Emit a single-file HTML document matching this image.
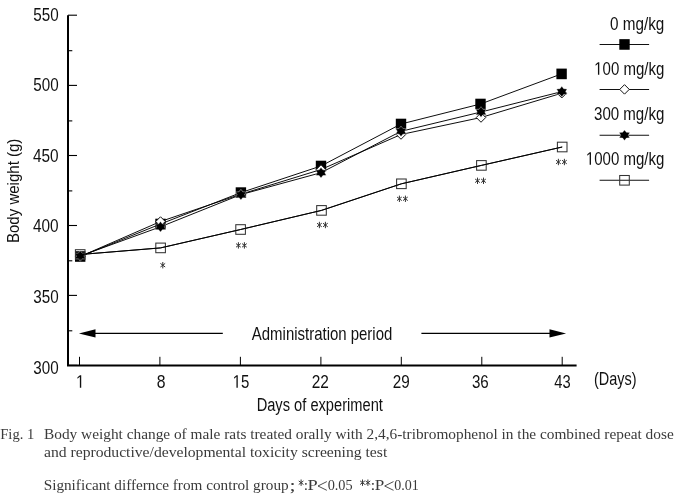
<!DOCTYPE html><html><head><meta charset="utf-8"><style>html,body{margin:0;padding:0;background:#fff;width:674px;height:494px;overflow:hidden}svg{display:block;will-change:transform}</style></head><body>
<svg width="674" height="494" viewBox="0 0 674 494">
<rect width="674" height="494" fill="#fff"/>
<g stroke="#000" fill="none">
<path d="M68,15.2 V365.5 H576.6" stroke-width="2"/>
<path d="M68,15.2 H77" stroke-width="1.1"/>
<path d="M68,85.4 H77" stroke-width="1.1"/>
<path d="M68,155.5 H77" stroke-width="1.1"/>
<path d="M68,225.5 H77" stroke-width="1.1"/>
<path d="M68,295.4 H77" stroke-width="1.1"/>
<path d="M68,365.4 H77" stroke-width="1.1"/>
<path d="M68,50.7 H72.3" stroke-width="1.1"/>
<path d="M68,120.9 H72.3" stroke-width="1.1"/>
<path d="M68,190.9 H72.3" stroke-width="1.1"/>
<path d="M68,260.8 H72.3" stroke-width="1.1"/>
<path d="M68,330.8 H72.3" stroke-width="1.1"/>
<path d="M79.5,365 V356.8" stroke-width="1"/>
<path d="M159.9,365 V356.8" stroke-width="1"/>
<path d="M240.4,365 V356.8" stroke-width="1"/>
<path d="M320.9,365 V356.8" stroke-width="1"/>
<path d="M401.3,365 V356.8" stroke-width="1"/>
<path d="M481.8,365 V356.8" stroke-width="1"/>
<path d="M562.2,365 V356.8" stroke-width="1"/>
</g>
<text transform="translate(33.29,20.90) scale(0.8409,1)" font-family="Liberation Sans" font-size="18.1" fill="#111">550</text>
<text transform="translate(33.29,91.40) scale(0.8409,1)" font-family="Liberation Sans" font-size="18.1" fill="#111">500</text>
<text transform="translate(33.02,161.90) scale(0.8502,1)" font-family="Liberation Sans" font-size="18.1" fill="#111">450</text>
<text transform="translate(33.02,232.30) scale(0.8502,1)" font-family="Liberation Sans" font-size="18.1" fill="#111">400</text>
<text transform="translate(33.29,303.20) scale(0.8409,1)" font-family="Liberation Sans" font-size="18.1" fill="#111">350</text>
<text transform="translate(33.29,373.80) scale(0.8409,1)" font-family="Liberation Sans" font-size="18.1" fill="#111">300</text>
<path d="M515,0 L515,1237 L197,1010 L197,1180 L530,1409 L696,1409 L696,0 Z" fill="#111" transform="translate(75.984,387.80) scale(0.007529,-0.008838)"/>
<text transform="translate(75.98,387.80) scale(0.8519,1)" font-family="Liberation Sans" font-size="18.1" fill="#111"> </text>
<text transform="translate(156.69,387.80) scale(0.8699,1)" font-family="Liberation Sans" font-size="18.1" fill="#111">8</text>
<path d="M515,0 L515,1237 L197,1010 L197,1180 L530,1409 L696,1409 L696,0 Z" fill="#111" transform="translate(232.677,387.80) scale(0.007312,-0.008838)"/>
<text transform="translate(232.68,387.80) scale(0.8273,1)" font-family="Liberation Sans" font-size="18.1" fill="#111"> 5</text>
<text transform="translate(311.73,387.80) scale(0.8533,1)" font-family="Liberation Sans" font-size="18.1" fill="#111">22</text>
<text transform="translate(392.74,387.80) scale(0.8437,1)" font-family="Liberation Sans" font-size="18.1" fill="#111">29</text>
<text transform="translate(471.89,387.80) scale(0.8368,1)" font-family="Liberation Sans" font-size="18.1" fill="#111">36</text>
<text transform="translate(554.23,387.80) scale(0.8142,1)" font-family="Liberation Sans" font-size="18.1" fill="#111">43</text>
<text transform="translate(593.93,384.98) scale(0.8083,1)" font-family="Liberation Sans" font-size="17.9" fill="#111" >(Days)</text>
<text transform="translate(256.63,410.60) scale(0.8333,1)" font-family="Liberation Sans" font-size="17.6" fill="#111">Days of experiment</text>
<text transform="translate(251.83,339.60) scale(0.8458,1)" font-family="Liberation Sans" font-size="17.7" fill="#111">Administration period</text>
<text transform="translate(19.37,243.00) rotate(-90) scale(0.8740,1)" font-family="Liberation Sans" font-size="17.2" fill="#111">Body weight (g)</text>
<path d="M95,333.4 H222.8 M421.4,333.4 H550" stroke="#000" stroke-width="1.1"/>
<path d="M78.9,333.4 L95.5,329.2 L95.5,337.6 Z" fill="#000"/>
<path d="M566.1,333.4 L549.5,329.2 L549.5,337.6 Z" fill="#000"/>
<g fill="none" stroke="#000" stroke-width="0.95">
<polyline points="80.2,256.5 160.5,224 240.9,192.6 321,166 401,124 480.5,104 561.6,73.9"/>
<polyline points="80.2,256.5 160.5,221.5 240.9,194.2 321,169.5 401,134.5 481,117.5 561.8,93.2"/>
<polyline points="80.2,256 160.5,226.8 240.9,194.6 321,172.7 401,131.3 481,112 561.8,91.6"/>
<polyline points="80.2,254.5 160.6,247.9 240.6,229.5 321.5,210.4 401.4,183.8 481.4,165.4 562.2,147"/>
</g>
<rect x="75.00" y="251.20" width="10.4" height="10.6" fill="#000"/>
<rect x="155.30" y="218.70" width="10.4" height="10.6" fill="#000"/>
<rect x="235.70" y="187.30" width="10.4" height="10.6" fill="#000"/>
<rect x="315.80" y="160.70" width="10.4" height="10.6" fill="#000"/>
<rect x="395.80" y="118.70" width="10.4" height="10.6" fill="#000"/>
<rect x="475.30" y="98.70" width="10.4" height="10.6" fill="#000"/>
<rect x="556.40" y="68.60" width="10.4" height="10.6" fill="#000"/>
<path d="M80.2,251.75 L84.95,256.5 L80.2,261.25 L75.45,256.5 Z" fill="#fff" stroke="#111" stroke-width="1.0"/>
<path d="M160.5,216.75 L165.25,221.5 L160.5,226.25 L155.75,221.5 Z" fill="#fff" stroke="#111" stroke-width="1.0"/>
<path d="M240.9,189.45 L245.65,194.2 L240.9,198.95 L236.15,194.2 Z" fill="#fff" stroke="#111" stroke-width="1.0"/>
<path d="M321,164.75 L325.75,169.5 L321,174.25 L316.25,169.5 Z" fill="#fff" stroke="#111" stroke-width="1.0"/>
<path d="M401,129.75 L405.75,134.5 L401,139.25 L396.25,134.5 Z" fill="#fff" stroke="#111" stroke-width="1.0"/>
<path d="M481,112.75 L485.75,117.5 L481,122.25 L476.25,117.5 Z" fill="#fff" stroke="#111" stroke-width="1.0"/>
<path d="M561.8,88.45 L566.55,93.2 L561.8,97.95 L557.05,93.2 Z" fill="#fff" stroke="#111" stroke-width="1.0"/>
<path d="M80.20,250.70 L82.09,253.15 L85.48,253.35 L83.98,256.00 L85.48,258.65 L82.09,258.85 L80.20,261.30 L78.31,258.85 L74.92,258.65 L76.42,256.00 L74.92,253.35 L78.31,253.15 Z" fill="#000" stroke="#fff" stroke-width="0.5" stroke-opacity="0.7"/>
<path d="M160.50,221.50 L162.39,223.95 L165.78,224.15 L164.28,226.80 L165.78,229.45 L162.39,229.65 L160.50,232.10 L158.61,229.65 L155.22,229.45 L156.72,226.80 L155.22,224.15 L158.61,223.95 Z" fill="#000" stroke="#fff" stroke-width="0.5" stroke-opacity="0.7"/>
<path d="M240.90,189.30 L242.79,191.75 L246.18,191.95 L244.68,194.60 L246.18,197.25 L242.79,197.45 L240.90,199.90 L239.01,197.45 L235.62,197.25 L237.12,194.60 L235.62,191.95 L239.01,191.75 Z" fill="#000" stroke="#fff" stroke-width="0.5" stroke-opacity="0.7"/>
<path d="M321.00,167.40 L322.89,169.85 L326.28,170.05 L324.78,172.70 L326.28,175.35 L322.89,175.55 L321.00,178.00 L319.11,175.55 L315.72,175.35 L317.22,172.70 L315.72,170.05 L319.11,169.85 Z" fill="#000" stroke="#fff" stroke-width="0.5" stroke-opacity="0.7"/>
<path d="M401.00,126.00 L402.89,128.45 L406.28,128.65 L404.78,131.30 L406.28,133.95 L402.89,134.15 L401.00,136.60 L399.11,134.15 L395.72,133.95 L397.22,131.30 L395.72,128.65 L399.11,128.45 Z" fill="#000" stroke="#fff" stroke-width="0.5" stroke-opacity="0.7"/>
<path d="M481.00,106.70 L482.89,109.15 L486.28,109.35 L484.78,112.00 L486.28,114.65 L482.89,114.85 L481.00,117.30 L479.11,114.85 L475.72,114.65 L477.22,112.00 L475.72,109.35 L479.11,109.15 Z" fill="#000" stroke="#fff" stroke-width="0.5" stroke-opacity="0.7"/>
<path d="M561.80,86.30 L563.69,88.75 L567.08,88.95 L565.58,91.60 L567.08,94.25 L563.69,94.45 L561.80,96.90 L559.91,94.45 L556.52,94.25 L558.02,91.60 L556.52,88.95 L559.91,88.75 Z" fill="#000" stroke="#fff" stroke-width="0.5" stroke-opacity="0.7"/>
<rect x="75.40" y="249.70" width="9.6" height="9.6" fill="none" stroke="#333" stroke-width="1.05"/>
<rect x="155.80" y="243.10" width="9.6" height="9.6" fill="none" stroke="#333" stroke-width="1.05"/>
<rect x="235.80" y="224.70" width="9.6" height="9.6" fill="none" stroke="#333" stroke-width="1.05"/>
<rect x="316.70" y="205.60" width="9.6" height="9.6" fill="none" stroke="#333" stroke-width="1.05"/>
<rect x="396.60" y="179.00" width="9.6" height="9.6" fill="none" stroke="#333" stroke-width="1.05"/>
<rect x="476.60" y="160.60" width="9.6" height="9.6" fill="none" stroke="#333" stroke-width="1.05"/>
<rect x="557.40" y="142.20" width="9.6" height="9.6" fill="none" stroke="#333" stroke-width="1.05"/>
<polyline points="80.2,254.5 160.6,247.9 240.6,229.5 321.5,210.4 401.4,183.8 481.4,165.4 562.2,147" fill="none" stroke="#000" stroke-width="0.95"/>
<path d="M162.8,262.40 V268.00 M160.75,263.65 L164.85,266.75 M160.75,266.75 L164.85,263.65" stroke="#333" stroke-width="1.0" stroke-linecap="round" fill="none"/>
<path d="M238.4,242.60 V248.20 M236.35,243.85 L240.45,246.95 M236.35,246.95 L240.45,243.85" stroke="#333" stroke-width="1.0" stroke-linecap="round" fill="none"/>
<path d="M244.4,242.60 V248.20 M242.35,243.85 L246.45,246.95 M242.35,246.95 L246.45,243.85" stroke="#333" stroke-width="1.0" stroke-linecap="round" fill="none"/>
<path d="M319.4,222.20 V227.80 M317.35,223.45 L321.45,226.55 M317.35,226.55 L321.45,223.45" stroke="#333" stroke-width="1.0" stroke-linecap="round" fill="none"/>
<path d="M325.4,222.20 V227.80 M323.35,223.45 L327.45,226.55 M323.35,226.55 L327.45,223.45" stroke="#333" stroke-width="1.0" stroke-linecap="round" fill="none"/>
<path d="M399.4,196.00 V201.60 M397.35,197.25 L401.45,200.35 M397.35,200.35 L401.45,197.25" stroke="#333" stroke-width="1.0" stroke-linecap="round" fill="none"/>
<path d="M405.4,196.00 V201.60 M403.35,197.25 L407.45,200.35 M403.35,200.35 L407.45,197.25" stroke="#333" stroke-width="1.0" stroke-linecap="round" fill="none"/>
<path d="M477.5,178.00 V183.60 M475.45,179.25 L479.55,182.35 M475.45,182.35 L479.55,179.25" stroke="#333" stroke-width="1.0" stroke-linecap="round" fill="none"/>
<path d="M483.5,178.00 V183.60 M481.45,179.25 L485.55,182.35 M481.45,182.35 L485.55,179.25" stroke="#333" stroke-width="1.0" stroke-linecap="round" fill="none"/>
<path d="M558.4,159.20 V164.80 M556.35,160.45 L560.45,163.55 M556.35,163.55 L560.45,160.45" stroke="#333" stroke-width="1.0" stroke-linecap="round" fill="none"/>
<path d="M564.4,159.20 V164.80 M562.35,160.45 L566.45,163.55 M562.35,163.55 L566.45,160.45" stroke="#333" stroke-width="1.0" stroke-linecap="round" fill="none"/>
<text transform="translate(609.99,29.70) scale(0.8443,1)" font-family="Liberation Sans" font-size="18.1" fill="#111">0 mg/kg</text>
<path d="M599.6,44.45 H649.1" stroke="#111" stroke-width="1.05"/>
<rect x="619.30" y="39.15" width="10.4" height="10.6" fill="#000"/>
<path d="M515,0 L515,1237 L197,1010 L197,1180 L530,1409 L696,1409 L696,0 Z" fill="#111" transform="translate(594.173,74.80) scale(0.007340,-0.008838)"/>
<text transform="translate(594.17,74.80) scale(0.8306,1)" font-family="Liberation Sans" font-size="18.1" fill="#111"> 00 mg/kg</text>
<path d="M599.6,89.4 H649.1" stroke="#111" stroke-width="1.05"/>
<path d="M624.5,84.65 L629.25,89.4 L624.5,94.15 L619.75,89.4 Z" fill="#fff" stroke="#111" stroke-width="1.0"/>
<text transform="translate(594.00,119.80) scale(0.8327,1)" font-family="Liberation Sans" font-size="18.1" fill="#111">300 mg/kg</text>
<path d="M599.6,135.2 H649.1" stroke="#111" stroke-width="1.05"/>
<path d="M624.50,129.90 L626.39,132.35 L629.78,132.55 L628.28,135.20 L629.78,137.85 L626.39,138.05 L624.50,140.50 L622.61,138.05 L619.22,137.85 L620.72,135.20 L619.22,132.55 L622.61,132.35 Z" fill="#000" stroke="#fff" stroke-width="0.5" stroke-opacity="0.7"/>
<path d="M515,0 L515,1237 L197,1010 L197,1180 L530,1409 L696,1409 L696,0 Z" fill="#111" transform="translate(585.873,164.80) scale(0.007336,-0.008838)"/>
<text transform="translate(585.87,164.80) scale(0.8301,1)" font-family="Liberation Sans" font-size="18.1" fill="#111"> 000 mg/kg</text>
<path d="M599.6,180.3 H649.1" stroke="#111" stroke-width="1.05"/>
<rect x="619.70" y="175.50" width="9.6" height="9.6" fill="none" stroke="#333" stroke-width="1.05"/>
<text transform="translate(0.26,439.10) scale(1.0045,1)" font-family="Liberation Serif" font-size="14.5" fill="#3a3a3a">Fig. 1</text>
<text transform="translate(43.99,438.80) scale(1.0590,1)" font-family="Liberation Serif" font-size="14.5" fill="#3a3a3a">Body weight change of male rats treated orally with 2,4,6-tribromophenol in the combined repeat dose</text>
<text transform="translate(43.98,456.90) scale(1.0801,1)" font-family="Liberation Serif" font-size="14.5" fill="#3a3a3a">and reproductive/developmental toxicity screening test</text>
<text transform="translate(43.68,490.30) scale(1.0511,1)" font-family="Liberation Serif" font-size="14.5" fill="#3a3a3a">Significant differnce from control group</text>
<text transform="translate(289.50,491.10) scale(1.3333,1)" font-family="Liberation Serif" font-size="16.5" fill="#3a3a3a">;</text>
<path d="M301.1,479.90 V485.50 M299.05,481.15 L303.15,484.25 M299.05,484.25 L303.15,481.15" stroke="#3a3a3a" stroke-width="1.0" stroke-linecap="round" fill="none"/>
<text transform="translate(303.75,490.30) scale(1.0795,1)" font-family="Liberation Serif" font-size="14.5" fill="#3a3a3a">:</text>
<text transform="translate(307.45,490.30) scale(1.2656,1)" font-family="Liberation Serif" font-size="14.5" fill="#3a3a3a">P</text>
<path d="M326.8,481.6 L318,486 L326.8,490.3" stroke="#3a3a3a" stroke-width="0.9" fill="none"/>
<text transform="translate(327.63,490.30) scale(0.9870,1)" font-family="Liberation Serif" font-size="14.5" fill="#3a3a3a">0.05</text>
<path d="M362.5,479.90 V485.50 M360.45,481.15 L364.55,484.25 M360.45,484.25 L364.55,481.15" stroke="#3a3a3a" stroke-width="1.0" stroke-linecap="round" fill="none"/>
<path d="M367.9,479.90 V485.50 M365.85,481.15 L369.95,484.25 M365.85,484.25 L369.95,481.15" stroke="#3a3a3a" stroke-width="1.0" stroke-linecap="round" fill="none"/>
<text transform="translate(370.61,490.30) scale(1.1994,1)" font-family="Liberation Serif" font-size="14.5" fill="#3a3a3a">:</text>
<text transform="translate(374.79,490.30) scale(1.1802,1)" font-family="Liberation Serif" font-size="14.5" fill="#3a3a3a">P</text>
<path d="M393.5,481.6 L384.7,486 L393.5,490.3" stroke="#3a3a3a" stroke-width="0.9" fill="none"/>
<text transform="translate(394.34,490.30) scale(0.9655,1)" font-family="Liberation Serif" font-size="14.5" fill="#3a3a3a">0.01</text>
</svg></body></html>
